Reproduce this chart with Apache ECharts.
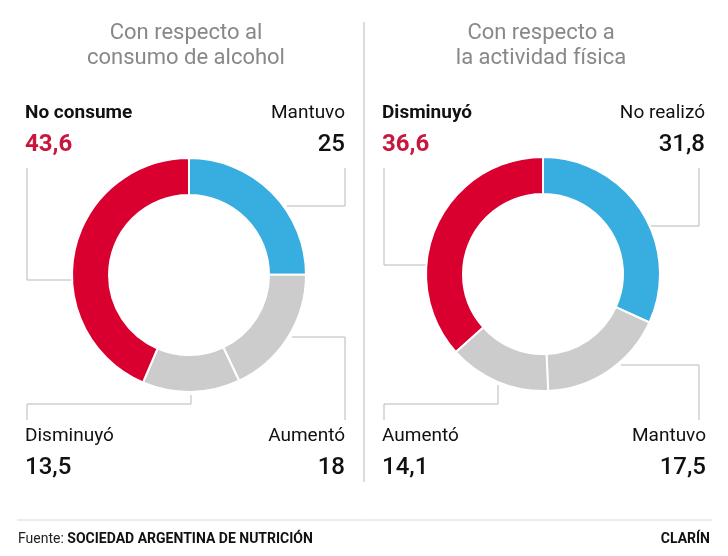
<!DOCTYPE html>
<html><head><meta charset="utf-8">
<script src="https://cdn.jsdelivr.net/npm/echarts@6/dist/echarts.min.js"></script>
<style>html,body{margin:0;padding:0;background:#fff}#c{width:728px;height:556px}</style>
</head><body><div id="c"></div>
<script>
// Data
const titlesLeft = ['Con respecto al', 'consumo de alcohol'];
const titlesRight = ['Con respecto a', 'la actividad física'];
const alcoholCats = ['Mantuvo', 'Aumentó', 'Disminuyó', 'No consume'];
const alcoholVals = [25, 18, 13.5, 43.6];
const fisicaCats = ['No realizó', 'Mantuvo', 'Aumentó', 'Disminuyó'];
const fisicaVals = [31.8, 17.5, 14.1, 36.6];
const alcoholColors = ['#38ade0', '#cccccc', '#cccccc', '#d9002f'];
const fisicaColors = ['#38ade0', '#cccccc', '#cccccc', '#d9002f'];
const sourceLabel = 'Fuente: ';
const sourceName = 'SOCIEDAD ARGENTINA DE NUTRICIÓN';
const brand = 'CLARÍN';

const fmt = v => String(v).replace('.', ',');
const FONT = 'Roboto, "Liberation Sans", sans-serif';

const chart = echarts.init(document.getElementById('c'), null, {renderer: 'canvas'});

function pie(center, cats, vals, colors) {
  return {
    type: 'pie', center: center, radius: [80, 117], startAngle: 90, clockwise: true,
    silent: true, label: {show: false}, labelLine: {show: false},
    itemStyle: {borderColor: '#fff', borderWidth: 2},
    data: cats.map((c, i) => ({name: c, value: vals[i], itemStyle: {color: colors[i]}}))
  };
}

const g = [];
function txt(x, y, s, opt) {
  g.push({type: 'text', x: x, y: y, style: Object.assign({text: s, font: '19px ' + FONT, fill: '#222', textAlign: 'left', textVerticalAlign: 'middle'}, opt || {})});
}
function line(pts) {
  g.push({type: 'polyline', shape: {points: pts}, style: {stroke: '#b8b8b8', lineWidth: 1, fill: null}});
}
// titles
const TF = '22px ' + FONT;
txt(186, 33, titlesLeft[0], {font: TF, fill: '#888', textAlign: 'center'});
txt(186, 58, titlesLeft[1], {font: TF, fill: '#888', textAlign: 'center'});
txt(541, 33, titlesRight[0], {font: TF, fill: '#888', textAlign: 'center'});
txt(541, 58, titlesRight[1], {font: TF, fill: '#888', textAlign: 'center'});

// separator
line([[364, 22], [364, 482]]);

const lab = (x, y, i, cats, vals, align, red) => {
  txt(x, y, cats[i], {textAlign: align, font: (red ? 'bold ' : '') + '19px ' + FONT, fill: '#111'});
  txt(x, y + 32, fmt(vals[i]), {textAlign: align, font: (red ? 'bold ' : '500 ') + '24px ' + FONT, fill: red ? '#c8173f' : '#111'});
};
// left labels
lab(25, 113, 3, alcoholCats, alcoholVals, 'left', true);
lab(345, 113, 0, alcoholCats, alcoholVals, 'right', false);
lab(25, 436, 2, alcoholCats, alcoholVals, 'left', false);
lab(345, 436, 1, alcoholCats, alcoholVals, 'right', false);
// right labels
lab(382, 113, 3, fisicaCats, fisicaVals, 'left', true);
lab(705, 113, 0, fisicaCats, fisicaVals, 'right', false);
lab(382, 436, 2, fisicaCats, fisicaVals, 'left', false);
lab(706, 436, 1, fisicaCats, fisicaVals, 'right', false);

// leader lines (annotations)
line([[27, 168], [27, 280], [72, 280]]);
line([[345, 168], [345, 206], [287, 206]]);
line([[292, 337], [345, 337], [345, 420]]);
line([[191, 395], [191, 404], [27, 404], [27, 420]]);
line([[384, 168], [384, 265], [426, 265]]);
line([[699, 168], [699, 226], [651, 226]]);
line([[621, 365], [699, 365], [699, 420]]);
line([[498, 385], [498, 404], [384, 404], [384, 420]]);

// footer
g.push({type: 'line', shape: {x1: 17, y1: 520, x2: 712, y2: 520}, style: {stroke: '#d8d8d8', lineWidth: 1}});
g.push({type: 'text', x: 18, y: 539, style: {
  text: '{a|' + sourceLabel + '}{b|' + sourceName + '}', textVerticalAlign: 'middle',
  rich: {a: {font: '14px ' + FONT, fill: '#222'}, b: {font: 'bold 14px ' + FONT, fill: '#111'}}
}});
txt(710, 539, brand, {textAlign: 'right', font: 'bold 14px ' + FONT, fill: '#111'});

chart.setOption({
  animation: false,
  series: [
    pie([189, 275], alcoholCats, alcoholVals, alcoholColors),
    pie([543, 274], fisicaCats, fisicaVals, fisicaColors)
  ],
  graphic: g
});
</script></body></html>
